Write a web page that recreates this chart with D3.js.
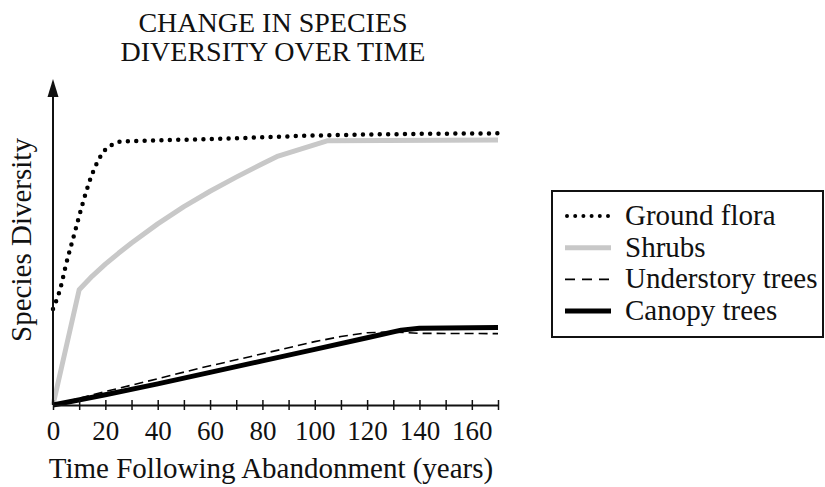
<!DOCTYPE html>
<html>
<head>
<meta charset="utf-8">
<script src="https://cdn.jsdelivr.net/npm/d3@7"></script>
<style>
  body { margin: 0; background: #fff; }
  svg text { font-family: "Liberation Serif", "Times New Roman", serif !important; fill: #111; }
</style>
</head>
<body>
<svg id="chart" width="825" height="487"></svg>
<script>
// Data (years, relative diversity 0-100)
const groundFlora = [[0, 30], [3, 37], [5, 44], [8, 53], [11, 62], [14, 70], [17, 76], [20, 79.8], [23, 81.5], [26, 82.3], [40, 82.7], [60, 83.1], [100, 84.2], [170, 84.9]];
const shrubs = [[0, 0], [10, 36], [15, 40.3], [20, 44], [25, 47.4], [30, 50.6], [40, 56.6], [50, 62], [60, 66.8], [70, 71.2], [80, 75.4], [86, 77.8], [105, 82.6], [170, 82.8]];
const understory = [[0, 0], [20, 4.2], [40, 8.2], [56, 11.5], [71, 14.3], [90, 17.9], [100, 19.8], [110, 21.4], [120, 22.6], [130, 22.8], [140, 22.4], [170, 22.3]];
const canopy = [[0, 0], [20, 3.2], [40, 6.6], [60, 10.2], [80, 13.8], [100, 17.4], [120, 21], [133, 23.4], [140, 24], [170, 24.2]];

const xTicks = d3.range(0, 171, 10);
const xLabels = d3.range(0, 161, 20);
const legendLabels = ['Ground flora', 'Shrubs', 'Understory trees', 'Canopy trees'];

const svg = d3.select('#chart');

const x = d3.scaleLinear().domain([0, 170]).range([53, 498]);
const y = d3.scaleLinear().domain([0, 100]).range([405, 85]);

// Line styles, same order as legendLabels
const styles = [
    { stroke: '#000', width: 4.5, dash: '0 8.4', cap: 'round', curve: d3.curveMonotoneX },
    { stroke: '#c8c8c8', width: 5, dash: null, cap: 'butt', curve: d3.curveLinear },
    { stroke: '#000', width: 1.6, dash: '9 5', cap: 'butt', curve: d3.curveLinear },
    { stroke: '#000', width: 5, dash: null, cap: 'butt', curve: d3.curveLinear }
];
const series = [groundFlora, shrubs, understory, canopy];

// Title
svg.append('text')
    .attr('x', 273).attr('text-anchor', 'middle')
    .style('font-size', '28px')
    .selectAll('tspan')
    .data(['CHANGE IN SPECIES', 'DIVERSITY OVER TIME'])
    .enter()
    .append('tspan')
    .attr('x', 273)
    .attr('y', (d, i) => 32 + i * 28.5)
    .text(d => d);

// Series lines
svg.append('g')
    .selectAll('path')
    .data(series)
    .enter()
    .append('path')
    .attr('d', (d, i) => d3.line()
        .x(p => x(p[0]))
        .y(p => y(p[1]))
        .curve(styles[i].curve)(d))
    .attr('fill', 'none')
    .attr('stroke', (d, i) => styles[i].stroke)
    .attr('stroke-width', (d, i) => styles[i].width)
    .attr('stroke-dasharray', (d, i) => styles[i].dash)
    .attr('stroke-linecap', (d, i) => styles[i].cap)
    .attr('stroke-linejoin', 'round');

// X axis
const xAxis = d3.axisBottom(x)
    .tickValues(xTicks)
    .tickSize(0)
    .tickFormat(d => xLabels.includes(d) ? d : '');

const gx = svg.append('g')
    .attr('transform', 'translate(0,405)')
    .call(xAxis);

gx.select('.domain').attr('stroke', '#111').attr('stroke-width', 2);
gx.selectAll('.tick line')
    .attr('y1', -5).attr('y2', 5)
    .attr('stroke', '#111').attr('stroke-width', 1.5);
gx.selectAll('.tick text')
    .attr('dy', null)
    .attr('y', 35)
    .style('font-size', '27px');

// Y axis with arrow
svg.append('line')
    .attr('x1', x(0)).attr('x2', x(0))
    .attr('y1', y(0)).attr('y2', 95)
    .attr('stroke', '#111').attr('stroke-width', 2);

svg.append('path')
    .attr('d', `M${x(0)},79 L${x(0) - 5.5},97 L${x(0) + 5.5},97 Z`)
    .attr('fill', '#111');

// Axis titles
svg.append('text')
    .attr('x', 271).attr('y', 478)
    .attr('text-anchor', 'middle')
    .style('font-size', '29px')
    .text('Time Following Abandonment (years)');

svg.append('text')
    .attr('transform', 'translate(31,240) rotate(-90)')
    .attr('text-anchor', 'middle')
    .style('font-size', '29px')
    .text('Species Diversity');

// Legend
const legend = svg.append('g');

legend.append('rect')
    .attr('x', 552).attr('y', 191)
    .attr('width', 271).attr('height', 146)
    .attr('fill', 'none')
    .attr('stroke', '#111').attr('stroke-width', 2);

const rows = legend.selectAll('g.row')
    .data(legendLabels)
    .enter()
    .append('g')
    .attr('class', 'row')
    .attr('transform', (d, i) => `translate(0,${225 + i * 31.7})`);

rows.append('line')
    .attr('x1', (d, i) => i === 0 ? 567 : 565)
    .attr('x2', (d, i) => i === 0 ? 608 : 611)
    .attr('y1', -9).attr('y2', -9)
    .attr('stroke', (d, i) => styles[i].stroke)
    .attr('stroke-width', (d, i) => i === 0 ? 4 : (i === 2 ? 1.6 : 5))
    .attr('stroke-dasharray', (d, i) => i === 0 ? '0 8.2' : (i === 2 ? '10 7' : null))
    .attr('stroke-linecap', (d, i) => styles[i].cap);

rows.append('text')
    .attr('x', 625)
    .style('font-size', '29px')
    .text(d => d);
</script>
</body>
</html>
